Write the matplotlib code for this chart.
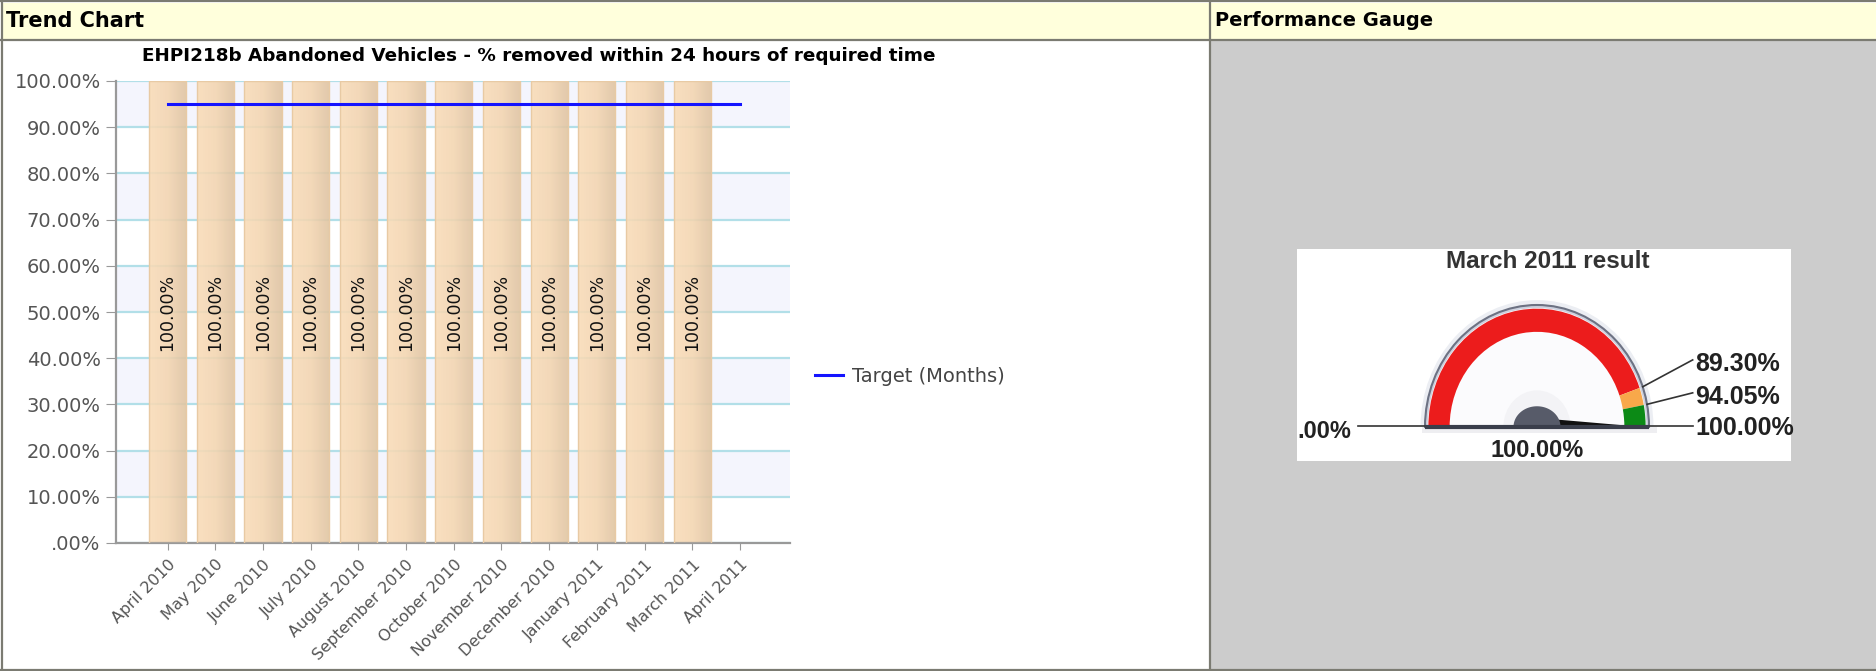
import numpy as np
import matplotlib
matplotlib.use("Agg")
import matplotlib.pyplot as plt
from matplotlib.patches import Rectangle, Wedge, Polygon
from matplotlib.colors import LinearSegmentedColormap

# trend data
months = ["April 2010", "May 2010", "June 2010", "July 2010", "August 2010",
          "September 2010", "October 2010", "November 2010", "December 2010",
          "January 2011", "February 2011", "March 2011", "April 2011"]
results = [100.00, 100.00, 100.00, 100.00, 100.00, 100.00,
           100.00, 100.00, 100.00, 100.00, 100.00, 100.00]
target = [95.0, 95.0, 95.0, 95.0, 95.0, 95.0, 95.0,
          95.0, 95.0, 95.0, 95.0, 95.0, 95.0]
y_ticks = [0, 10, 20, 30, 40, 50, 60, 70, 80, 90, 100]
y_tick_labels = [".00%", "10.00%", "20.00%", "30.00%", "40.00%", "50.00%",
                 "60.00%", "70.00%", "80.00%", "90.00%", "100.00%"]
chart_title = "EHPI218b Abandoned Vehicles - % removed within 24 hours of required time"

# gauge data
gauge_title = "March 2011 result"
gauge_value = 100.00
gauge_bounds = [0.00, 89.30, 94.05, 100.00]
gauge_colours = ["#ec1c1c", "#f8a84a", "#0c8a16"]

W, H = 1876, 671
fig = plt.figure(figsize=(W / 100, H / 100), dpi=100)

# page frame drawn in pixel coordinates
bg = fig.add_axes([0, 0, 1, 1])
bg.set_xlim(0, W)
bg.set_ylim(H, 0)
bg.axis("off")
line_c = "#7b7b72"
bg.add_patch(Rectangle((3, 3), W - 3, 36, fc="#ffffdc", ec="none"))
bg.add_patch(Rectangle((1211, 40), W - 1211, 629, fc="#cccccc", ec="none"))
bg.add_patch(Rectangle((1297, 249), 494, 212, fc="white", ec="none"))
for y in (1.2, 39.5, 669.5):
    bg.plot([0, W], [y, y], color=line_c, lw=1.6)
for x in (2, 1210):
    bg.plot([x, x], [0, H], color=line_c, lw=1.6)
bg.text(6, 21, "Trend Chart", fontsize=15, fontweight="bold", va="center")
bg.text(1215, 21, "Performance Gauge", fontsize=14, fontweight="bold", va="center")
bg.text(539, 56, chart_title, fontsize=13.2, fontweight="bold", ha="center", va="center")

# trend chart
ax = fig.add_axes([116 / W, 1 - 543 / H, 674 / W, 462 / H])
for lo in range(10, 100, 20):
    ax.axhspan(lo, lo + 10, color="#f4f5fd", lw=0, zorder=0)
ax.yaxis.grid(True, color="#b2dfe8", lw=1.6)
ax.set_axisbelow(True)

x = np.arange(len(results))
bar_w = 0.78
grad = np.linspace(0, 1, 64).reshape(1, -1)
bar_cmap = LinearSegmentedColormap.from_list("peach", ["#fadcb7", "#f3d5b0", "#dfc3a0"])
bars = ax.bar(x, results, width=bar_w, facecolor="none", edgecolor="#e8caa4", lw=1, zorder=3)
for b in bars:
    x0, w, h = b.get_x(), b.get_width(), b.get_height()
    im = ax.imshow(grad, extent=[x0, x0 + w, 0, h], cmap=bar_cmap, aspect="auto",
                   alpha=0.88, zorder=2, interpolation="bilinear")
    im.set_clip_path(b)
for xi, v in zip(x, results):
    ax.text(xi, v / 2, f"{v:.2f}%", rotation=90, ha="center", va="center",
            fontsize=12.5, color="#111111", zorder=4)

ax.plot(np.arange(len(target)), target, color="#1414ff", lw=2.2, zorder=5,
        label="Target (Months)")

ax.set_xlim(-1.08, 13.05)
ax.set_ylim(0, 100)
ax.set_xticks(np.arange(len(months)))
ax.set_xticklabels(months, rotation=45, ha="right", rotation_mode="anchor",
                   color="#555555", fontsize=11.5)
ax.set_yticks(y_ticks)
ax.set_yticklabels(y_tick_labels, color="#555555", fontsize=14)
ax.tick_params(axis="x", length=5, color="#999999", pad=5)
ax.tick_params(axis="y", length=7, color="#999999", pad=4)
for s in ("top", "right"):
    ax.spines[s].set_visible(False)
for s in ("left", "bottom"):
    ax.spines[s].set_color("#999999")
    ax.spines[s].set_linewidth(1.6)
leg = ax.legend(loc="center left", bbox_to_anchor=(815 / W, 1 - 376 / H),
                bbox_transform=fig.transFigure, frameon=False, fontsize=14,
                handlelength=1.45, handletextpad=0.45, borderpad=0, borderaxespad=0)
for t in leg.get_texts():
    t.set_color("#444444")

# performance gauge: one unit = 112 px across, 122 px up
gx = fig.add_axes([1297 / W, 1 - 461 / H, 494 / W, 212 / H])
gx.set_xlim(-240 / 112, 254 / 112)
gx.set_ylim(-34 / 122, 178 / 122)
gx.axis("off")


def ang(v):
    return 180 - 180 * (v - gauge_bounds[0]) / (gauge_bounds[-1] - gauge_bounds[0])


def pct(v):
    s = f"{v:.2f}%"
    return s[1:] if s.startswith("0.") else s


gfont = dict(family="Liberation Sans", fontweight="bold")
gx.add_patch(Rectangle((-1.03, -0.05), 2.1, 0.05, fc="#e4e4e8", ec="none", alpha=0.6))
gx.add_patch(Wedge((0, 0), 1.04, 0, 180, fc="#eceef3", ec="none"))
gx.add_patch(Wedge((0, 0), 1.0, 0, 180, fc="#cdd1de", ec="#6d7283", lw=1.5))
gx.add_patch(Wedge((0, 0), 0.975, 0, 180, fc="#fbfbfd", ec="none"))
gx.add_patch(Wedge((0, 0), 0.3, 0, 180, fc="#f3f3f6", ec="none"))
for lo, hi, c in zip(gauge_bounds[:-1], gauge_bounds[1:], gauge_colours):
    gx.add_patch(Wedge((0, 0), 0.97, ang(hi), ang(lo), width=0.19, fc=c, ec="none"))

# needle, upper half only - the base covers the rest
th = np.radians(ang(gauge_value))
tip = np.array([0.95 * np.cos(th), 0.95 * np.sin(th)])
side = np.array([-np.sin(th), np.cos(th)]) * 0.075
gx.add_patch(Polygon([side, tip, (0, 0)], closed=True, fc="#111111", ec="none", zorder=3))
t = np.linspace(0, np.pi, 60)
gx.add_patch(Polygon(np.column_stack([0.21 * np.cos(t), 0.17 * np.sin(t)]),
                     closed=True, fc="#575b69", ec="none", zorder=4))
gx.plot([-1.0, 1.0], [0, 0], color="#3a3e4b", lw=3, solid_capstyle="butt", zorder=5)

# range ends and threshold labels with leader lines
gx.plot([-1.6, -1.0], [0.01, 0.01], color="#333333", lw=1.2)
gx.text(-1.66, -0.04, pct(gauge_bounds[0]), ha="right", va="center",
        fontsize=17, color="#222222", **gfont)
gx.plot([1.0, 1.39], [0.01, 0.01], color="#333333", lw=1.2)
gx.text(1.41, -0.01, pct(gauge_bounds[-1]), ha="left", va="center",
        fontsize=18, color="#222222", **gfont)
for v, ly in zip(gauge_bounds[1:-1], (0.52, 0.25)):
    a = np.radians(ang(v))
    gx.plot([np.cos(a), 1.39], [np.sin(a), ly + 0.03], color="#333333", lw=1.2)
    gx.text(1.41, ly, pct(v), ha="left", va="center", fontsize=18,
            color="#222222", **gfont)
gx.text(0, -0.19, pct(gauge_value), ha="center", va="center", fontsize=17,
        color="#222222", **gfont)
gx.text(0.1, 1.36, gauge_title, ha="center", va="center", fontsize=17.5,
        color="#333333", **gfont)

fig.savefig("out.png", dpi=100)
